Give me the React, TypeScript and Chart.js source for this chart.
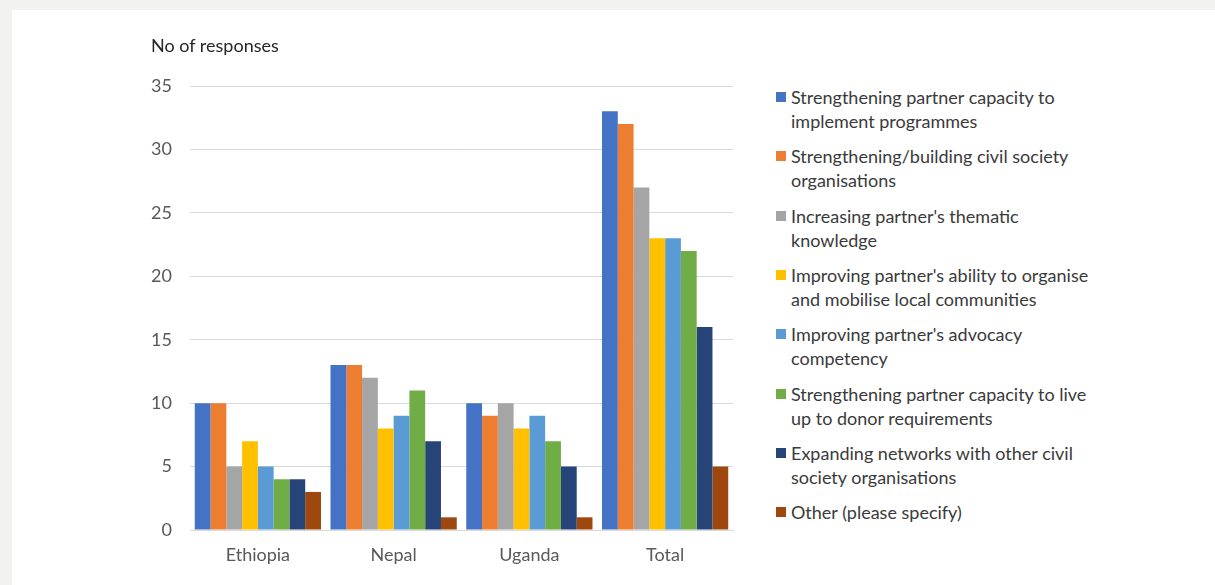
import React, { useEffect, useRef } from "react";
import { Chart, registerables } from "chart.js";

Chart.register(...registerables);

// Countries surveyed plus the overall total
const categories = ["Ethiopia", "Nepal", "Uganda", "Total"];

// Number of responses per support type, in category order
const capacityToImplement = [10, 13, 10, 33];
const buildingCivilSociety = [10, 13, 9, 32];
const thematicKnowledge = [5, 12, 10, 27];
const mobiliseCommunities = [7, 8, 8, 23];
const advocacyCompetency = [5, 9, 9, 23];
const donorRequirements = [4, 11, 7, 22];
const expandingNetworks = [4, 7, 5, 16];
const otherSpecify = [3, 1, 1, 5];

const seriesNames = [
  "Strengthening partner capacity to implement programmes",
  "Strengthening/building civil society organisations",
  "Increasing partner's thematic knowledge",
  "Improving partner's ability to organise and mobilise local communities",
  "Improving partner's advocacy competency",
  "Strengthening partner capacity to live up to donor requirements",
  "Expanding networks with other civil society organisations",
  "Other (please specify)",
];

// Legend text broken into display lines
const legendLines = [
  ["Strengthening partner capacity to", "implement programmes"],
  ["Strengthening/building civil society", "organisations"],
  ["Increasing partner's thematic", "knowledge"],
  ["Improving partner's ability to organise", "and mobilise local communities"],
  ["Improving partner's advocacy", "competency"],
  ["Strengthening partner capacity to live", "up to donor requirements"],
  ["Expanding networks with other civil", "society organisations"],
  ["Other (please specify)"],
];

const seriesValues = [
  capacityToImplement,
  buildingCivilSociety,
  thematicKnowledge,
  mobiliseCommunities,
  advocacyCompetency,
  donorRequirements,
  expandingNetworks,
  otherSpecify,
];

const seriesColors = [
  "#4472C4",
  "#ED7D31",
  "#A5A5A5",
  "#FFC000",
  "#5B9BD5",
  "#70AD47",
  "#264478",
  "#9E480E",
];

const yAxisTitle = "No of responses";
const yMin = 0;
const yMax = 35;
const yStep = 5;

const FONT = "Lato, 'Open Sans', sans-serif";
const FONT_SIZE = 18;

export default function App() {
  const canvasRef = useRef<HTMLCanvasElement | null>(null);

  useEffect(() => {
    if (!canvasRef.current) return;
    const chart = new Chart(canvasRef.current, {
      type: "bar",
      data: {
        labels: categories,
        datasets: seriesValues.map((values, i) => ({
          label: seriesNames[i],
          data: values,
          backgroundColor: seriesColors[i],
          borderWidth: 0,
          categoryPercentage: 0.93,
          barPercentage: 1.0,
        })),
      },
      options: {
        responsive: false,
        animation: false,
        layout: { padding: { left: 140, top: 86, right: 27, bottom: 0 } },
        plugins: {
          legend: { display: false },
          tooltip: { enabled: false },
        },
        scales: {
          x: {
            afterFit: (scale: any) => {
              scale.height = 55;
            },
            grid: { display: false, drawTicks: false },
            border: { display: true, color: "#d9d9d9", width: 1 },
            ticks: {
              color: "#595959",
              padding: 14,
              font: { family: FONT, size: FONT_SIZE },
            },
          },
          y: {
            min: yMin,
            max: yMax,
            afterFit: (scale: any) => {
              scale.width = 50;
            },
            grid: { color: "#d9d9d9", lineWidth: 1, drawTicks: false },
            border: { display: false },
            ticks: {
              stepSize: yStep,
              color: "#595959",
              padding: 18,
              font: { family: FONT, size: FONT_SIZE },
            },
          },
        },
      },
    });
    return () => chart.destroy();
  }, []);

  return (
    <div
      style={{
        position: "fixed",
        left: 0,
        top: 0,
        width: 1215,
        height: 585,
        background: "#f2f2f0",
        overflow: "hidden",
        fontFamily: FONT,
      }}
    >
      <div
        style={{
          position: "absolute",
          left: 12,
          top: 10,
          right: 0,
          bottom: 0,
          background: "#ffffff",
        }}
      />
      <canvas
        ref={canvasRef}
        width={760}
        height={585}
        style={{ position: "absolute", left: 0, top: 0, width: 760, height: 585 }}
      />
      <div
        style={{
          position: "absolute",
          left: 151,
          top: 33,
          fontSize: FONT_SIZE,
          lineHeight: "24px",
          color: "#262626",
        }}
      >
        {yAxisTitle}
      </div>
      {legendLines.map((lines, i) => (
        <div
          key={i}
          style={{
            position: "absolute",
            left: 776,
            top: 85 + i * 59.3,
            display: "flex",
            alignItems: "flex-start",
          }}
        >
          <div
            style={{
              width: 10,
              height: 10,
              marginTop: 7,
              marginRight: 5,
              background: seriesColors[i],
            }}
          />
          <div
            style={{
              fontSize: FONT_SIZE,
              lineHeight: "24px",
              color: "#3a3a3a",
              whiteSpace: "nowrap",
            }}
          >
            {lines.map((line, j) => (
              <div key={j}>{line}</div>
            ))}
          </div>
        </div>
      ))}
    </div>
  );
}
